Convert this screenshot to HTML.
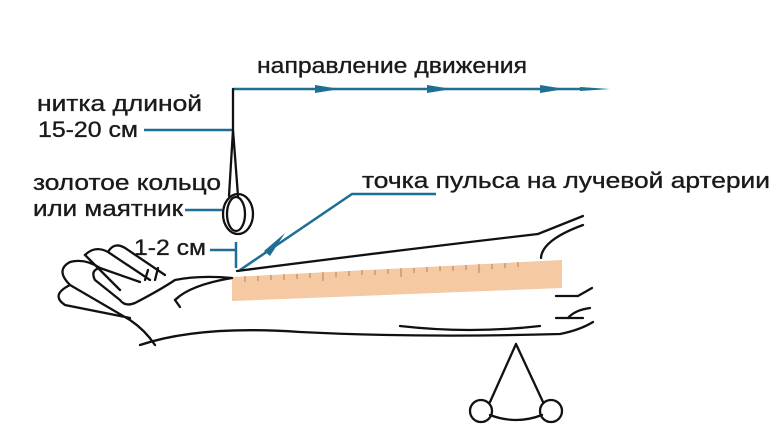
<!DOCTYPE html>
<html><head><meta charset="utf-8"><style>
html,body{margin:0;padding:0;background:#fff;}
svg{display:block;}
text{font-family:"Liberation Sans","DejaVu Sans",sans-serif;fill:#1a1a1a;stroke:#1a1a1a;stroke-width:0.35;}
</style></head><body>
<svg width="782" height="438" viewBox="0 0 782 438" xmlns="http://www.w3.org/2000/svg">
<g font-size="22">
<text x="257" y="73" textLength="270" lengthAdjust="spacingAndGlyphs">направление движения</text>
<text x="37" y="111" textLength="165" lengthAdjust="spacingAndGlyphs">нитка длиной</text>
<text x="38" y="137" textLength="100" lengthAdjust="spacingAndGlyphs">15-20 см</text>
<text x="33" y="190" textLength="188" lengthAdjust="spacingAndGlyphs">золотое кольцо</text>
<text x="33" y="216" textLength="150" lengthAdjust="spacingAndGlyphs">или маятник</text>
<text x="134" y="255" textLength="72" lengthAdjust="spacingAndGlyphs">1-2 см</text>
<text x="362" y="188" textLength="408" lengthAdjust="spacingAndGlyphs">точка пульса на лучевой артерии</text>
</g>
<g stroke="#1f6f93" stroke-width="2.5" fill="none">
<line x1="233" y1="89" x2="590" y2="89"/>
<line x1="144" y1="130" x2="233" y2="130"/>
<line x1="185" y1="210" x2="222" y2="210"/>
<line x1="210" y1="250" x2="235" y2="250"/>
<line x1="236" y1="242" x2="236" y2="268"/>
<polyline points="436,194 352,194 240,270"/>
</g>
<g fill="#1f6f93">
<polygon points="315,85 340,89 315,93"/>
<polygon points="427,85 452,89 427,93"/>
<polygon points="540,85 565,89 540,93"/>
<polygon points="580,87 610,89 580,91"/>
<polygon points="285,233 264,251 270,256"/>
</g>
<polygon points="232,277 562,260 562,288 232,301" fill="#f5c9a2"/>
<g stroke="#b08060" stroke-width="1">
<path d="M245 276v6M258 276v5M271 275v5M284 274v6M297 274v5M310 273v5M323 272v9M336 272v5M349 271v5M362 270v5M375 270v5M388 269v5M401 268v9M414 268v5M427 267v5M440 266v5M453 266v5M466 265v5M479 264v9M492 264v5M505 263v5M518 262v5"/>
</g>
<g stroke="#111" stroke-width="2.3" fill="none" stroke-linecap="round">
<path d="M233 89 L233 130 L229 196 M233 130 L238 196"/>
<ellipse cx="238" cy="214" rx="15" ry="20"/>
<ellipse cx="236" cy="214" rx="9" ry="17"/>
<path d="M237 271 Q400 250 538 234 L583 216"/>
<path d="M541 258 Q542 240 583 225"/>
<path d="M556 296 L578 296 L592 288"/>
<path d="M556 318 L583 318 M568 318 Q575 310 590 308"/>
<path d="M400 326 Q470 334 540 326"/>
<path d="M140 345 Q200 325 300 332 Q420 338 560 334 Q580 330 593 322"/>
<path d="M232 278 Q200 275 175 280 Q160 290 135 303 Q125 307 120 300 L95 280 Q90 270 100 268 L140 282 M100 268 Q85 258 70 262 Q55 270 70 285 L130 320 Q145 330 155 345 M70 285 Q50 295 65 305 L130 318 M232 278 Q190 285 175 300 L180 307"/>
<path d="M120 290 L85 255 Q95 245 108 252 L150 280 M108 252 Q115 240 128 250 L165 275"/>
<path d="M148 270 L145 280 M158 268 L155 280"/>
<path d="M516 344 L490 402 M516 344 L543 402 M490 415 Q516 425 542 415"/>
<circle cx="481" cy="411" r="11"/>
<circle cx="551" cy="411" r="11"/>
</g>
</svg>
</body></html>
